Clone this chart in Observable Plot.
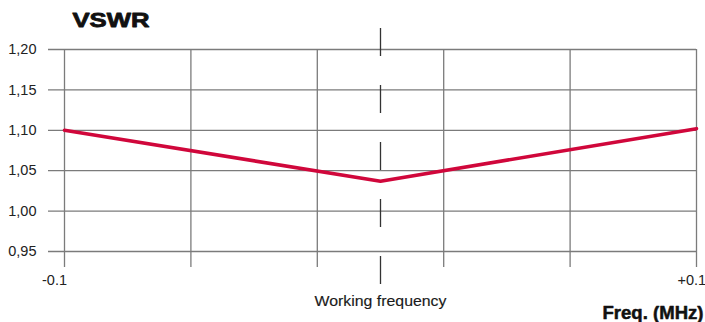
<!DOCTYPE html>
<html>
<head>
<meta charset="utf-8">
<script src="https://cdn.jsdelivr.net/npm/d3@7"></script>
<script src="https://cdn.jsdelivr.net/npm/@observablehq/plot@0.6"></script>
<style>
  html, body { margin: 0; padding: 0; background: #fff; }
  svg { display: block; }
</style>
</head>
<body>
<div id="chart"></div>
<script>
// Data
const freq = [-0.1, 0, 0.1];
const vswr = [1.100, 1.037, 1.102];
const yTicks = [0.95, 1.00, 1.05, 1.10, 1.15, 1.20];
const xGrid = [-0.1, -0.06, -0.02, 0.02, 0.06, 0.1];
const centerFreq = [0];
const xLabelLeft = ["-0.1"];
const xLabelRight = ["+0.1"];
const titleText = "VSWR";
const centerLabel = "Working frequency";
const xAxisTitle = "Freq. (MHz)";

const data = freq.map((f, i) => ({f, v: vswr[i]}));
const grid = "#7b7b7b";
const font = "'Liberation Sans', Arial, Helvetica, sans-serif";

const chart = Plot.plot({
  width: 705,
  height: 322,
  marginLeft: 64,
  marginRight: 9,
  marginTop: 49,
  marginBottom: 71,
  style: {fontFamily: font, background: "#fff", color: "#222", overflow: "hidden"},
  x: {domain: [-0.1, 0.1], axis: null},
  y: {domain: [0.95, 1.20], axis: null},
  marks: [
    Plot.ruleY(yTicks, {stroke: grid, strokeWidth: 1.3, insetLeft: -16}),
    Plot.ruleX(xGrid, {stroke: grid, strokeWidth: 1.3, insetBottom: -16}),
    Plot.ruleX(centerFreq, {stroke: "#333", strokeWidth: 1.3, insetTop: -21, insetBottom: -34, strokeDasharray: "28,29"}),
    Plot.axisY({ticks: yTicks, tickSize: 0, tickPadding: 28, fontSize: 14.5,
      tickFormat: d => d.toFixed(2).replace(".", ","), label: null, fill: "#222"}),
    Plot.line(data, {x: "f", y: "v", stroke: "#d0073b", strokeWidth: 3.6, strokeLinejoin: "miter"}),
    Plot.text(xLabelLeft, {frameAnchor: "bottom-left", text: d => d, textAnchor: "middle", dx: -10, dy: 29, lineAnchor: "middle", fontSize: 14.5, fill: "#222"}),
    Plot.text(xLabelRight, {frameAnchor: "bottom-right", text: d => d, textAnchor: "start", dx: -19, dy: 29, lineAnchor: "middle", fontSize: 14.5, fill: "#222"}),
    Plot.text([centerLabel], {x: centerFreq[0], frameAnchor: "bottom", text: d => d, textAnchor: "middle", dy: 54, lineAnchor: "bottom", fontSize: 15, fill: "#1a1a1a", stroke: "#1a1a1a", strokeWidth: 0.15}),
    Plot.text([titleText], {frameAnchor: "top-left", text: d => d, textAnchor: "start", dx: 8, dy: -23, lineAnchor: "bottom", fontSize: 20, fontWeight: 900, fill: "#111", stroke: "#111", strokeWidth: 0.8}),
    Plot.text([xAxisTitle], {frameAnchor: "bottom-right", text: d => d, textAnchor: "end", dx: 7, dy: 67, lineAnchor: "bottom", fontSize: 17.5, fontWeight: 700, fill: "#111", stroke: "#111", strokeWidth: 0.5})
  ]
});
document.getElementById("chart").appendChild(chart);

// Stretch some labels to match the wide heavy typeface of the reference
d3.select(chart).selectAll("text").each(function() {
  const t = this.textContent;
  if (t === titleText) { this.setAttribute("textLength", 77); this.setAttribute("lengthAdjust", "spacingAndGlyphs"); }
  if (t === centerLabel) { this.setAttribute("textLength", 132); this.setAttribute("lengthAdjust", "spacingAndGlyphs"); }
  if (t === xAxisTitle) { this.setAttribute("textLength", 101); this.setAttribute("lengthAdjust", "spacingAndGlyphs"); }
});
</script>
</body>
</html>
